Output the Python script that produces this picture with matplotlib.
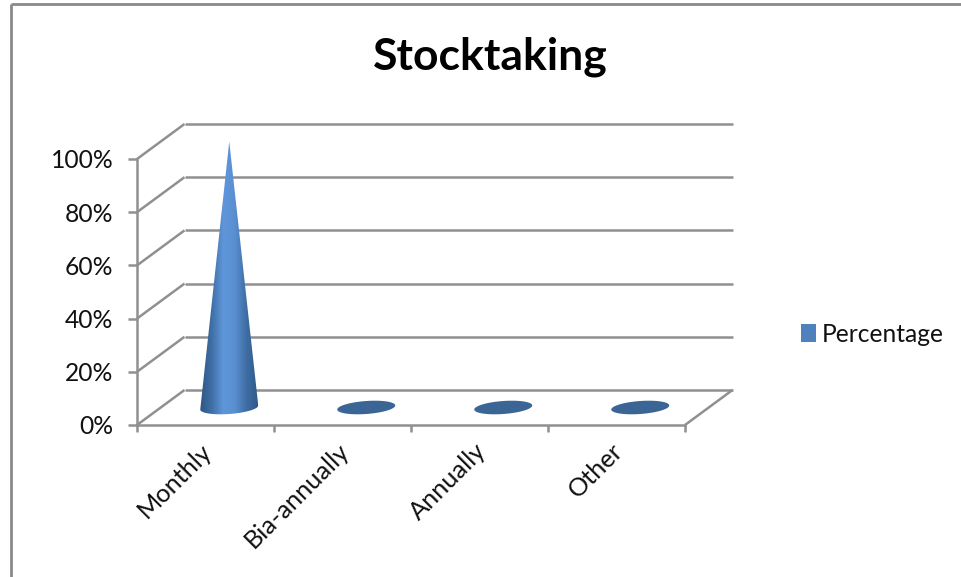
import numpy as np
import matplotlib
matplotlib.use("Agg")
import matplotlib.pyplot as plt
from matplotlib.colors import LinearSegmentedColormap
from matplotlib.lines import Line2D
from matplotlib.patches import Patch, Polygon
from matplotlib.transforms import Affine2D

categories = ["Monthly", "Bia-annually", "Annually", "Other"]
percentages = [100, 0, 0, 0]
tick_values = [0, 20, 40, 60, 80, 100]
tick_labels = ["0%", "20%", "40%", "60%", "80%", "100%"]
series_name = "Percentage"
chart_title = "Stocktaking"

W, H = 961, 577
plt.rcParams["font.family"] = ["Lato", "DejaVu Sans"]
plt.rcParams["lines.solid_capstyle"] = "butt"
GRID = "#909090"
TEXT = "#111111"
LW = 1.8
LABEL_SIZE = 17.7

fig = plt.figure(figsize=(W / 100, H / 100), dpi=100, facecolor="white")

# Front plane of the 3-D box: the axes cover it exactly
left, right, top, bottom = 137, 685, 159, 425
ax = fig.add_axes([left / W, 1 - bottom / H, (right - left) / W, (bottom - top) / H])
ax.set_xlim(0, len(categories))
ax.set_ylim(0, 100)
ax.patch.set_visible(False)
for name, spine in ax.spines.items():
    spine.set_visible(name in ("left", "bottom"))
    spine.set_color(GRID)
    spine.set_linewidth(LW)

ax.set_yticks(tick_values, tick_labels, fontsize=LABEL_SIZE, color=TEXT)
ax.set_xticks(range(len(categories) + 1), [""] * (len(categories) + 1))
ax.tick_params(axis="y", length=6.5, width=LW, color=GRID, pad=10.5)
ax.tick_params(axis="x", length=5, width=LW, color=GRID)

# Depth of the box in screen pixels
DEPTH_X, DEPTH_Y = 47.5, 35.0
PX_X = (right - left) / len(categories)
PX_Y = (bottom - top) / 100
back = ax.transData + Affine2D().translate(DEPTH_X, DEPTH_Y)
mid = ax.transData + Affine2D().translate(DEPTH_X / 2, DEPTH_Y / 2)

# Back wall gridlines and the slanted side-wall lines
n = len(categories)
for v in tick_values:
    ax.plot([0, n], [v, v], color=GRID, lw=LW, transform=back, clip_on=False, zorder=1)
    ax.add_line(Line2D([left, left + DEPTH_X],
                       [H - (bottom - v * PX_Y), H - (bottom - v * PX_Y) + DEPTH_Y],
                       color=GRID, lw=LW, transform=None, clip_on=False, zorder=1))
ax.add_line(Line2D([right, right + DEPTH_X], [H - bottom, H - bottom + DEPTH_Y],
                   color=GRID, lw=LW, transform=None, clip_on=False, zorder=1))

# Cones standing on the floor, centred in the box depth
RX, RY, TILT = 29 / PX_X, 6.5 / PX_Y, 0.07
theta = np.linspace(0, 2 * np.pi, 181)
shade = LinearSegmentedColormap.from_list(
    "cone", ["#2f5785", "#3f6fa6", "#5f96da", "#5a90d2", "#3f6ea4", "#30598a"])
for i, value in enumerate(percentages):
    cx = i + 0.5
    ex = cx + RX * np.cos(theta)
    ey = RY * np.sin(theta) + (RX * np.cos(theta)) * PX_X * TILT / PX_Y
    if value <= 0:
        ax.add_patch(Polygon(np.column_stack([ex, ey]), closed=True, facecolor="#3b6594",
                             edgecolor="none", transform=mid, clip_on=False, zorder=3))
        continue
    # Silhouette: lower half of the base ellipse joined to the apex
    lower = theta[(theta >= np.pi) & (theta <= 2 * np.pi)]
    bx = cx + RX * np.cos(lower)
    by = RY * np.sin(lower) + (RX * np.cos(lower)) * PX_X * TILT / PX_Y
    outline = np.vstack([np.column_stack([bx, by]), [[cx, value]]])
    clip = Polygon(outline, closed=True, transform=mid, facecolor="none", edgecolor="none")
    ax.add_patch(clip)
    im = ax.imshow(np.linspace(0, 1, 128).reshape(1, -1), cmap=shade, aspect="auto",
                   extent=(cx - RX, cx + RX, -RY * 2, value), interpolation="bilinear",
                   zorder=3)
    im.set_transform(mid)
    # The apex rises above the front plane, so only the silhouette may clip it
    im.set_clip_box(fig.bbox)
    im.set_clip_path(clip)

ax.set_xlim(0, n)
ax.set_ylim(0, 100)

# Category labels, rotated under the tick gaps
for i, cat in enumerate(categories):
    ax.annotate(cat, xy=(i + 0.5, 0), xycoords=ax.get_xaxis_transform(),
                xytext=(-4, -10), textcoords="offset points", rotation=45,
                rotation_mode="anchor", ha="right", va="top",
                fontsize=18.2, color=TEXT, annotation_clip=False)

fig.text(490 / W, 1 - 57 / H, chart_title, ha="center", va="center",
         fontsize=32, fontweight="bold", color="#000000")

handle = Patch(facecolor="#4f81bd", edgecolor="none", label=series_name)
fig.legend(handles=[handle], loc="center left", bbox_to_anchor=(794 / W, 1 - 334 / H),
           frameon=False, fontsize=LABEL_SIZE, labelcolor=TEXT, handlelength=0.6,
           handleheight=0.8, handletextpad=0.24, borderaxespad=0, borderpad=0.3)

# Outer chart frame, visible on the top and left only
frame = dict(color="#8a8a8a", lw=2, transform=fig.transFigure)
fig.add_artist(Line2D([11 / W, 1], [1 - 4 / H, 1 - 4 / H], **frame))
fig.add_artist(Line2D([11 / W, 11 / W], [0, 1 - 4 / H], **frame))

fig.savefig("out.png", dpi=100, facecolor="white")
